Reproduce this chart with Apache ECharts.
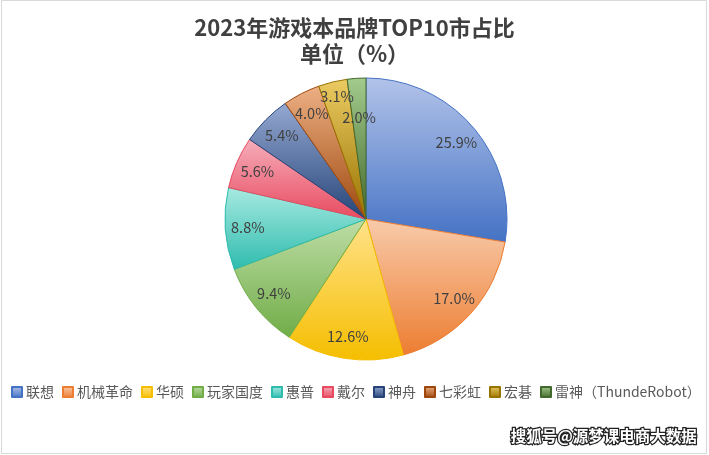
<!DOCTYPE html>
<html>
<head>
<meta charset="utf-8">
<script src="https://cdn.jsdelivr.net/npm/echarts@6/dist/echarts.min.js"></script>
<style>
html,body{margin:0;padding:0;background:#fff;}
#main{width:709px;height:455px;}
</style>
</head>
<body>
<div id="main"></div>
<script>
const categories = ['联想', '机械革命', '华硕', '玩家国度', '惠普', '戴尔', '神舟', '七彩虹', '宏碁', '雷神（ThundeRobot）'];
const values = [25.9, 17.0, 12.6, 9.4, 8.8, 5.6, 5.4, 4.0, 3.1, 2.0];
const baseColors = ['#4472C4', '#ED7D31', '#F5BE00', '#70AD47', '#2EBCAE', '#E84A5F', '#264478', '#9E480E', '#997300', '#43682B'];
const lightColors = ['#B2C3E9', '#F8CBAB', '#FFE28A', '#BEDDA6', '#A8EAE1', '#F6AEBB', '#95A9D2', '#EDB084', '#EBCB63', '#A3CB8E'];
const titleLines = ['2023年游戏本品牌TOP10市占比', '单位（%）'];

function grad(i) {
  return new echarts.graphic.LinearGradient(0, 0, 0, 1, [
    { offset: 0, color: lightColors[i] },
    { offset: 1, color: baseColors[i] }
  ]);
}

const chart = echarts.init(document.getElementById('main'), null, { renderer: 'canvas' });

const center = [366, 219];
const R = 141;

const sliceData = categories.map((c, i) => ({
  name: c,
  value: values[i],
  itemStyle: { color: grad(i), borderColor: baseColors[i], borderWidth: 1 }
}));

const labelData = categories.map((c, i) => {
  const d = { name: c, value: values[i] };
  if (i === 9) d.label = { offset: [1, 17] };
  if (i === 8) d.label = { offset: [-1, -7] };
  return d;
});

chart.setOption({
  backgroundColor: '#ffffff',
  animation: false,
  title: {
    text: titleLines.join('\n'),
    left: 'center',
    top: 10,
    textStyle: {
      fontFamily: 'Noto Sans CJK SC',
      fontSize: 22,
      fontWeight: 'bold',
      color: '#404040',
      lineHeight: 26
    }
  },
  legend: {
    data: categories,
    left: 11,
    top: 385,
    width: 698,
    padding: 0,
    itemWidth: 10,
    itemHeight: 10,
    itemGap: 8,
    icon: 'rect',
    textStyle: {
      fontFamily: 'Noto Sans CJK SC',
      fontSize: 14,
      color: '#595959',
      padding: [0, 0, 0, -1]
    }
  },
  graphic: [
    {
      type: 'rect',
      shape: { x: 1.5, y: 0.5, width: 705, height: 453 },
      style: { fill: 'none', stroke: '#D9D9D9', lineWidth: 1 },
      silent: true
    },
    {
      type: 'text',
      right: 11,
      top: 427,
      style: {
        text: '搜狐号@源梦课电商大数据',
        fontFamily: 'Noto Sans CJK SC',
        fontSize: 15.5,
        fontWeight: 'bold',
        fill: '#ffffff',
        stroke: '#222222',
        lineWidth: 2.5
      },
      z: 100
    }
  ],
  series: [
    {
      type: 'pie',
      center: center,
      radius: [0, R],
      startAngle: 90,
      clockwise: true,
      data: sliceData,
      label: { show: false },
      labelLine: { show: false },
      emphasis: { disabled: true }
    },
    {
      type: 'pie',
      center: center,
      radius: [90, R],
      startAngle: 90,
      clockwise: true,
      silent: true,
      data: labelData,
      legendHoverLink: false,
      itemStyle: { color: 'rgba(0,0,0,0)', borderWidth: 0 },
      label: {
        show: true,
        position: 'inside',
        formatter: p => p.value.toFixed(1) + '%',
        fontFamily: 'Noto Sans CJK SC',
        fontSize: 14.5,
        color: '#404040'
      },
      labelLine: { show: false },
      emphasis: { disabled: true }
    }
  ]
});
</script>
</body>
</html>
